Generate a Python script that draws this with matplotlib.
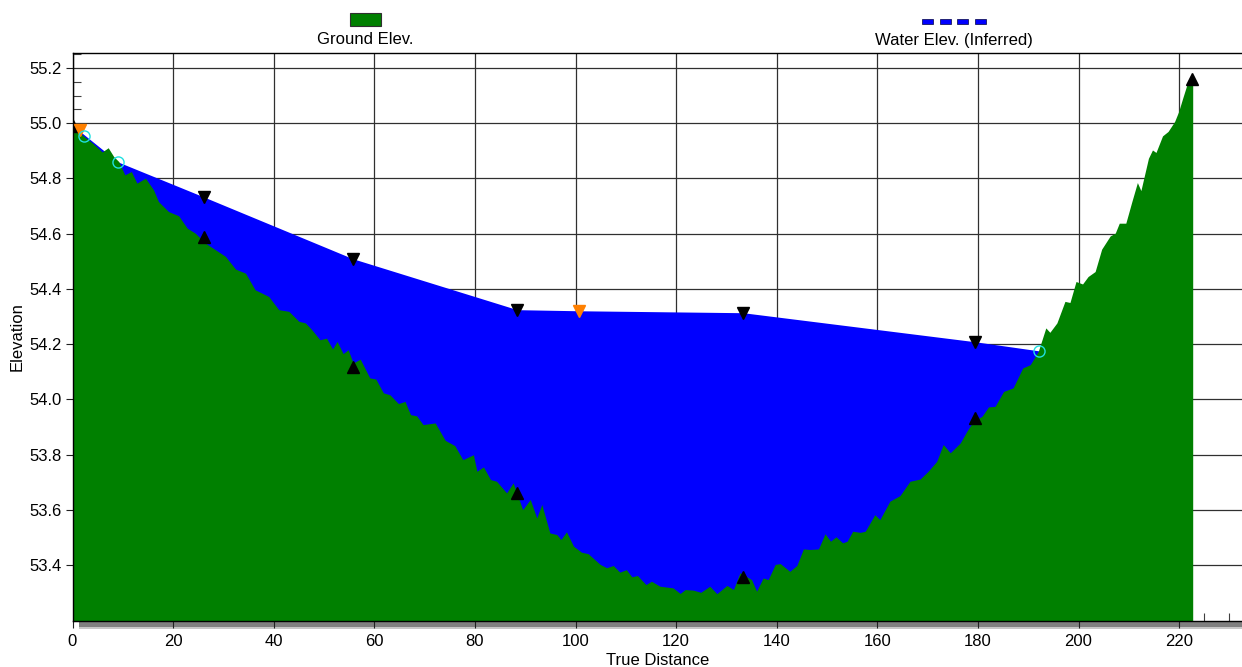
import numpy as np
import matplotlib
matplotlib.use("Agg")
import matplotlib.pyplot as plt
from matplotlib.patches import Rectangle
from matplotlib.ticker import MultipleLocator

plt.rcParams['font.family'] = ['Liberation Sans', 'DejaVu Sans']
plt.rcParams['font.size'] = 12

# ---------------- data ----------------
ground_x = [0.0, 1.9, 3.9, 5.9, 7.1, 8.2, 9.2, 10.4, 11.7, 12.8, 14.5, 16.1, 17.1, 19.1,
            21.1, 22.8, 24.4, 26.4, 28.4, 30.4, 32.4, 34.4, 36.3, 39.0, 41.0, 43.0, 45.0,
            46.3, 47.6, 49.2, 50.5, 51.7, 52.6, 53.8, 54.8, 55.8, 57.2, 59.1, 60.3, 61.8,
            63.1, 64.8, 66.1, 67.2, 68.4, 69.7, 72.1, 74.1, 76.0, 77.6, 79.7, 80.4, 81.7,
            83.1, 84.3, 86.3, 87.6, 89.5, 91.0, 92.3, 93.3, 94.9, 96.3, 97.1, 98.2, 99.6,
            101.2, 102.5, 104.9, 106.2, 107.5, 108.8, 110.1, 111.2, 112.3, 114.0, 115.1,
            116.8, 119.4, 120.8, 121.8, 123.4, 124.9, 126.7, 128.1, 130.1, 131.4, 132.7,
            135.0, 136.0, 137.3, 138.3, 139.7, 140.7, 142.6, 144.0, 145.3, 146.6, 148.3,
            149.6, 150.7, 151.8, 153.1, 154.0, 155.1, 156.6, 157.6, 159.5, 160.5, 162.5,
            164.5, 166.5, 168.5, 170.1, 171.8, 173.1, 174.5, 176.5, 177.8, 179.1, 180.8,
            182.1, 183.4, 185.1, 187.0, 188.9, 190.4, 192.0, 193.5, 194.3, 195.7, 197.3,
            198.3, 199.5, 200.8, 201.9, 203.3, 204.6, 206.3, 207.3, 208.1, 209.4, 210.6,
            211.7, 212.4, 213.9, 214.7, 215.4, 216.7, 217.8, 219.1, 219.9, 220.7, 221.6,
            222.7]
ground_y = [54.994, 54.958, 54.929, 54.896, 54.911, 54.879, 54.861, 54.813, 54.825, 54.783,
            54.801, 54.759, 54.716, 54.680, 54.665, 54.620, 54.602, 54.566, 54.542, 54.518,
            54.472, 54.457, 54.397, 54.373, 54.325, 54.319, 54.283, 54.277, 54.252, 54.216,
            54.222, 54.183, 54.210, 54.166, 54.180, 54.132, 54.146, 54.078, 54.074, 54.024,
            54.017, 53.985, 53.993, 53.945, 53.941, 53.909, 53.915, 53.852, 53.833, 53.782,
            53.800, 53.740, 53.756, 53.710, 53.704, 53.662, 53.698, 53.601, 53.638, 53.571,
            53.620, 53.517, 53.511, 53.493, 53.521, 53.469, 53.447, 53.442, 53.403, 53.391,
            53.399, 53.375, 53.384, 53.358, 53.363, 53.330, 53.342, 53.324, 53.318, 53.298,
            53.312, 53.310, 53.302, 53.324, 53.297, 53.327, 53.312, 53.373, 53.348, 53.306,
            53.354, 53.348, 53.403, 53.406, 53.378, 53.399, 53.459, 53.457, 53.459, 53.514,
            53.487, 53.503, 53.481, 53.487, 53.523, 53.519, 53.523, 53.583, 53.565, 53.632,
            53.652, 53.704, 53.712, 53.740, 53.776, 53.837, 53.807, 53.843, 53.885, 53.921,
            53.939, 53.973, 53.975, 54.029, 54.042, 54.114, 54.126, 54.174, 54.259, 54.243,
            54.277, 54.355, 54.351, 54.427, 54.418, 54.445, 54.463, 54.544, 54.592, 54.602,
            54.638, 54.638, 54.716, 54.785, 54.756, 54.873, 54.903, 54.894, 54.954, 54.970,
            55.006, 55.042, 55.090, 55.142, 55.142]

water_x = [0.0, 1.5, 9.0, 26.1, 55.8, 88.4, 100.7, 133.3, 179.4, 192.1]
water_y = [54.99, 54.97, 54.86, 54.733, 54.509, 54.325, 54.321, 54.314, 54.209, 54.176]

ws_x = [26.1, 55.8, 88.4, 133.3, 179.4]
ws_y = [54.733, 54.509, 54.325, 54.314, 54.209]

gs_x = [0.0, 26.1, 55.8, 88.4, 133.3, 179.4, 222.5]
gs_y = [54.99, 54.589, 54.119, 53.663, 53.359, 53.934, 55.161]

orange_x = [1.5, 100.7]
orange_y = [54.976, 54.321]

edge_x = [2.3, 9.0, 192.1]
edge_y = [54.954, 54.86, 54.176]

x_ticks = [0, 20, 40, 60, 80, 100, 120, 140, 160, 180, 200, 220]
y_ticks = [53.4, 53.6, 53.8, 54.0, 54.2, 54.4, 54.6, 54.8, 55.0, 55.2]

GREEN = '#008000'
BLUE = '#0000FF'

# ---------------- figure ----------------
W, H = 1242, 667
fig = plt.figure(figsize=(W / 100, H / 100), dpi=100)
ax = fig.add_axes([72.5 / W, 1 - 620.5 / H, (W - 72.5) / W, (620.5 - 53) / H])

ax.fill_between(water_x, water_y, 53.0, color=BLUE, lw=0, zorder=1)
ax.fill_between(ground_x, ground_y, 53.0, color=GREEN, lw=0, zorder=2)

ax.plot(ws_x, ws_y, 'v', color='black', ms=9, zorder=5)
ax.plot(gs_x, gs_y, '^', color='black', ms=9, zorder=5)
ax.plot(orange_x, orange_y, 'v', color='#FF8000', ms=9, zorder=5)
ax.plot(edge_x, edge_y, 'o', mfc='none', mec='#20E0E0', mew=1.0, ms=8, zorder=6)

ax.set_xlim(0, 232.5)
ax.set_ylim(53.2, 55.254)
ax.set_xticks(x_ticks)
ax.set_yticks(y_ticks)
ax.set_yticklabels([f"{v:.1f}" for v in y_ticks])
ax.xaxis.set_minor_locator(MultipleLocator(5))
ax.yaxis.set_minor_locator(MultipleLocator(0.05))
ax.tick_params(axis='both', which='major', direction='out', length=5, width=0.8,
               color='#202020', labelsize=12)
ax.tick_params(axis='y', which='major', pad=2.5)
ax.tick_params(axis='x', which='major', pad=4.5)
ax.tick_params(axis='both', which='minor', direction='in', length=5.5, width=0.8,
               color='#404040')
ax.set_axisbelow(True)
ax.grid(True, which='major', color='#303030', lw=0.9)

for s in ['left', 'bottom', 'top']:
    ax.spines[s].set_color('black')
    ax.spines[s].set_linewidth(1.0)
ax.spines['right'].set_visible(False)

ax.set_xlabel('True Distance', fontsize=12, labelpad=3)
ax.set_ylabel('Elevation', fontsize=12, labelpad=4)

# gray bar under the x axis
fig.patches.append(Rectangle((79 / W, 1 - 627.5 / H), (W - 79) / W, 7 / H,
                             transform=fig.transFigure, facecolor='#808080',
                             edgecolor='none', zorder=-1))
fig.patches.append(Rectangle((79 / W, 1 - 628.5 / H), (W - 79) / W, 1.2 / H,
                             transform=fig.transFigure, facecolor='#C8C8C8',
                             edgecolor='none', zorder=-1))

# legend (custom, above the plot)
fig.patches.append(Rectangle((350 / W, 1 - 25.5 / H), 31.5 / W, 12.5 / H,
                             transform=fig.transFigure, facecolor=GREEN,
                             edgecolor='#303030', lw=0.8))
fig.text(365.5 / W, 1 - 40 / H, 'Ground Elev.', ha='center', va='center', fontsize=12)
for i in range(4):
    x0 = 922 + i * 17.5
    fig.patches.append(Rectangle((x0 / W, 1 - 23.5 / H), 11 / W, 4.5 / H,
                                 transform=fig.transFigure, facecolor=BLUE,
                                 edgecolor='#000040', lw=0.5))
fig.text(954 / W, 1 - 40 / H, 'Water Elev. (Inferred)', ha='center', va='center',
         fontsize=12)

fig.savefig('out.png', dpi=100)
